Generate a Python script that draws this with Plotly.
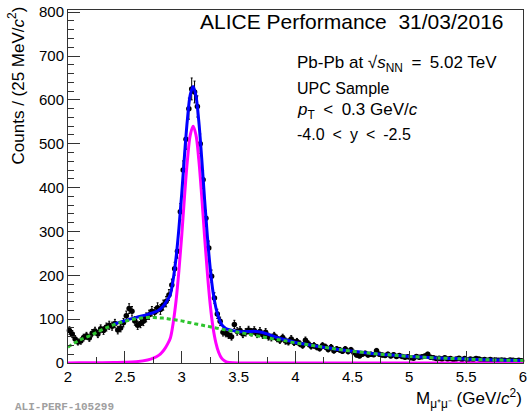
import numpy as np
import plotly.graph_objects as go

# ---- data ----
bin_lo = 2.0
bin_w = 0.025
counts = [
    74, 66, 55, 48, 50, 58, 62, 57, 68, 73, 66, 78, 74, 82, 86, 84,
    90, 75, 80, 92, 108, 124, 118, 96, 86, 90, 95, 104, 110, 118, 116, 126,
    122, 132, 140, 155, 178, 215, 255, 345, 440, 510, 580, 625, 618, 585, 500, 418,
    330, 262, 198, 148, 112, 95, 70, 68, 64, 60, 88, 72, 74, 66, 70, 75,
    70, 74, 66, 72, 64, 70, 60, 58, 62, 56, 52, 58, 50, 48, 55, 47,
    49, 44, 40, 52, 44, 38, 40, 36, 33, 40, 37, 31, 36, 28, 32, 30,
    27, 32, 26, 30, 24, 18, 16, 20, 22, 18, 20, 19, 28, 20, 18, 17,
    20, 16, 19, 15, 17, 15, 13, 14, 12, 11, 15, 13, 14, 16, 20, 13,
    12, 10, 11, 9, 12, 9, 10, 8, 9, 11, 8, 10, 7, 9, 8, 10,
    9, 7, 8, 6, 8, 6, 7, 6, 7, 6, 5, 7, 6, 5, 6, 5,
]
bin_centers = [round(bin_lo + bin_w * (i + 0.5), 4) for i in range(len(counts))]
count_err = np.sqrt(np.array(counts, dtype=float))

fit_x = [2.0, 2.1, 2.2, 2.3, 2.4, 2.5, 2.6, 2.7, 2.75, 2.8, 2.825, 2.85, 2.875,
         2.9, 2.925, 2.95, 2.975, 3.0, 3.025, 3.05, 3.075, 3.1, 3.125, 3.15,
         3.175, 3.2, 3.225, 3.25, 3.275, 3.3, 3.325, 3.35, 3.375, 3.4, 3.45,
         3.5, 3.55, 3.6, 3.65, 3.7, 3.75, 3.8, 3.85, 3.9, 4.0, 4.1, 4.2, 4.3,
         4.4, 4.5, 4.6, 4.7, 4.8, 4.9, 5.0, 5.1, 5.2, 5.3, 5.4, 5.5, 5.6, 5.7,
         5.8, 5.9, 6.0]
background = [36, 52, 63, 76, 87, 95, 101, 104, 104, 103, 102.5, 102, 101,
              100, 99, 98, 97, 96, 94.5, 93, 92, 90.5, 89, 88,
              86.5, 85, 84, 82.5, 81, 80, 78.5, 77, 76, 75, 72.5,
              70, 67.5, 65, 62.5, 60, 57.5, 55, 53, 51, 46, 42, 38, 34,
              30, 27, 24, 21, 19, 17, 15, 13.5, 12, 11, 10, 9, 8, 7.3,
              6.7, 6.1, 5.6]
jpsi = [0.2, 0.3, 0.4, 0.6, 1.0, 1.5, 3, 7, 11, 18, 24, 32, 43,
        57, 92, 142, 210, 291, 382, 463, 520, 540, 520, 463,
        382, 291, 206, 134, 81, 46, 24, 11, 5, 2, 0.3,
        0, 0, 0, 0, 0, 0, 0, 0, 0, 0, 0, 0, 0,
        0, 0, 0, 0, 0, 0, 0, 0, 0, 0, 0, 0, 0, 0,
        0, 0, 0]
total_fit = [None, None, None, None, 88, 96.5, 104, 111, 115, 121, 126.5, 134, 144,
             157, 191, 240, 307, 387, 476.5, 556, 612, 630.5, 609, 551,
             468.5, 376, 290, 216.5, 162, 126, 102.5, 88, 81, 77, 73.8,
             72, 71.5, 72, 72, 70, 66.5, 61.5, 57, 53.5, 46.7, 42.1, 38, 34,
             30, 27, 24, 21, 19, 17, 15, 13.5, 12, 11, 10, 9, 8, 7.3,
             6.7, 6.1, 5.6]

L, R, T, B = 68, 2, 10, 49
W, H = 529, 412
pw, ph = W - L - R, H - T - B


def px(x):
    return (x - L) / pw


def py(y):
    return (H - B - y) / ph


fig = go.Figure()
fig.add_trace(go.Scatter(
    x=bin_centers, y=counts, mode="markers",
    marker=dict(color="black", size=5.5),
    error_y=dict(type="data", array=count_err, color="black", thickness=1, width=1),
    cliponaxis=False, showlegend=False))
fig.add_trace(go.Scatter(
    x=fit_x, y=jpsi, mode="lines", line=dict(color="#ff00ff", width=3, shape="spline"),
    cliponaxis=False, showlegend=False))
fig.add_trace(go.Scatter(
    x=fit_x, y=total_fit, mode="lines", line=dict(color="#0000ff", width=3, shape="spline"),
    cliponaxis=False, showlegend=False))
fig.add_trace(go.Scatter(
    x=fit_x, y=background, mode="lines",
    line=dict(color="#2ec42e", width=3, dash="4px,3px", shape="spline"),
    cliponaxis=False, showlegend=False))

font = "Liberation Sans, Arial, sans-serif"
fig.update_layout(
    width=W, height=H,
    margin=dict(l=L, r=R, t=T, b=B),
    paper_bgcolor="white", plot_bgcolor="white",
    font=dict(family=font, color="black"),
    xaxis=dict(range=[2, 6], dtick=0.5, tick0=2, ticks="inside", ticklen=12,
               tickwidth=1, tickcolor="#333", showline=True, linecolor="#333",
               linewidth=1, mirror=True, showgrid=False, zeroline=False,
               ticklabeloverflow="allow",
               tickfont=dict(size=15, family=font),
               minor=dict(dtick=0.25, ticks="inside", ticklen=6, tickcolor="#333")),
    yaxis=dict(range=[0, 805], dtick=100, tick0=0, ticks="inside", ticklen=12,
               tickwidth=1, tickcolor="#333", showline=True, linecolor="#333",
               linewidth=1, mirror=True, showgrid=False, zeroline=False,
               tickfont=dict(size=15, family=font),
               minor=dict(dtick=20, ticks="inside", ticklen=6, tickcolor="#333")),
)

sp = "\u2002"
ann = []
ann.append(dict(text="ALICE Performance  31/03/2016", x=px(510), y=py(21),
                xanchor="right", yanchor="middle", font=dict(size=21)))
ann.append(dict(text=f"Pb-Pb at √<i>s</i><sub>NN</sub>{sp}={sp}5.02 TeV", x=px(297), y=py(64),
                xanchor="left", yanchor="middle", font=dict(size=17)))
ann.append(dict(text="UPC Sample", x=px(297), y=py(88),
                xanchor="left", yanchor="middle", font=dict(size=16)))
ann.append(dict(text=f"<i>p</i><sub>T</sub>{sp}<{sp}0.3 GeV/<i>c</i>", x=px(297), y=py(111),
                xanchor="left", yanchor="middle", font=dict(size=17)))
ann.append(dict(text=f"-4.0{sp}<{sp}y{sp}<{sp}-2.5", x=px(297), y=py(134),
                xanchor="left", yanchor="middle", font=dict(size=16)))
ann.append(dict(text="Counts / (25 MeV/<i>c</i><sup>2</sup>)", x=px(16), y=py(4),
                xanchor="center", yanchor="top", textangle=-90, font=dict(size=17)))
ann.append(dict(text="M<sub>μ⁺μ⁻</sub> (GeV/<i>c</i><sup>2</sup>)", x=px(528), y=py(398),
                xanchor="right", yanchor="middle", font=dict(size=17)))
ann.append(dict(text="<b>ALI-PERF-105299</b>", x=px(13), y=py(407),
                xanchor="left", yanchor="middle",
                font=dict(size=11, family="Liberation Mono, monospace", color="#a0a0a0")))
for a in ann:
    a.update(xref="paper", yref="paper", showarrow=False)
fig.update_layout(annotations=ann)

fig.write_html("out.html")
